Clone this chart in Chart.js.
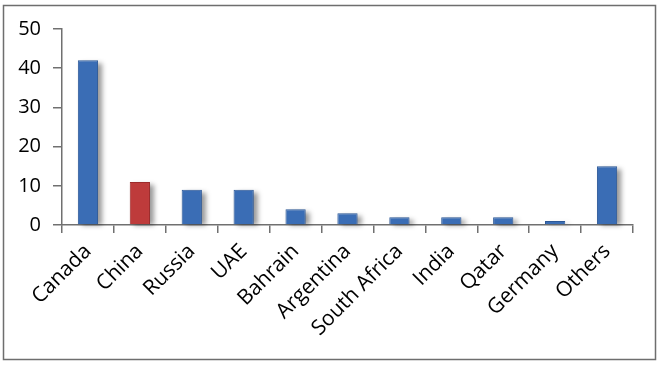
<!DOCTYPE html>
<html>
<head>
<meta charset="utf-8">
<script src="https://cdn.jsdelivr.net/npm/chart.js@4"></script>
<style>
	html, body { margin: 0; padding: 0; background: #fff; }
	#wrap { width: 660px; height: 367px; position: relative; }
</style>
</head>
<body>
<div id="wrap"><canvas id="chart" width="660" height="367"></canvas></div>
<script>
const countries = ["Canada", "China", "Russia", "UAE", "Bahrain", "Argentina", "South Africa", "India", "Qatar", "Germany", "Others"];
const shares = [42, 11, 9, 9, 4, 3, 2, 2, 2, 1, 15];
const yTicks = [0, 10, 20, 30, 40, 50];

const blue = "#3a6db5";
const blueEdge = "#2b5796";
const red = "#be3b3b";
const redEdge = "#9c2b2b";

const barColors = countries.map((c) => (c === "China" ? red : blue));
const edgeColors = countries.map((c) => (c === "China" ? redEdge : blueEdge));

// outer frame + soft shadow behind the bars
const framePlugin = {
	id: "frame",
	afterDraw(chart) {
		const ctx = chart.ctx;
		ctx.save();
		ctx.strokeStyle = "#6e6e6e";
		ctx.lineWidth = 1.5;
		ctx.strokeRect(3.5, 5.5, 652, 354);
		ctx.restore();
	},
	beforeDatasetsDraw(chart) {
		const ctx = chart.ctx;
		const bars = chart.getDatasetMeta(0).data;
		ctx.save();
		ctx.filter = "blur(2.5px)";
		ctx.fillStyle = "rgba(0,0,0,0.4)";
		bars.forEach((b) => {
			const p = b.getProps(["x", "y", "base", "width"], true);
			ctx.fillRect(p.x - p.width / 2 + 4, p.y + 3, p.width, p.base - p.y - 2);
		});
		ctx.restore();
	},
};

new Chart(document.getElementById("chart"), {
	type: "bar",
	data: {
		labels: countries,
		datasets: [
			{
				data: shares,
				backgroundColor: barColors,
				borderColor: edgeColors,
				borderWidth: 1,
				categoryPercentage: 1,
				barPercentage: 0.39,
			},
		],
	},
	options: {
		responsive: false,
		animation: false,
		layout: {
			padding: { left: 0, top: 29, right: 27, bottom: 0 },
		},
		plugins: {
			legend: { display: false },
			tooltip: { enabled: false },
		},
		scales: {
			y: {
				min: 0,
				max: 50,
				afterBuildTicks: (scale) => {
					scale.ticks = yTicks.map((v) => ({ value: v }));
				},
				afterFit: (scale) => {
					scale.width = 62;
				},
				border: { display: true, color: "#707070", width: 1.5 },
				grid: {
					drawOnChartArea: false,
					drawTicks: true,
					tickLength: 9,
					color: "#707070",
					lineWidth: 1.5,
				},
				ticks: {
					color: "#000",
					padding: 12,
					font: { family: "'Open Sans'", size: 20 },
				},
			},
			x: {
				afterFit: (scale) => {
					scale.height = 142;
				},
				border: { display: true, color: "#707070", width: 1.5 },
				grid: {
					offset: true,
					drawOnChartArea: false,
					drawTicks: true,
					tickLength: 8,
					color: "#707070",
					lineWidth: 1.5,
				},
				ticks: {
					color: "#000",
					maxRotation: 45,
					minRotation: 45,
					padding: 6,
					autoSkip: false,
					font: { family: "'Open Sans'", size: 21 },
				},
			},
		},
	},
	plugins: [framePlugin],
});
</script>
</body>
</html>
